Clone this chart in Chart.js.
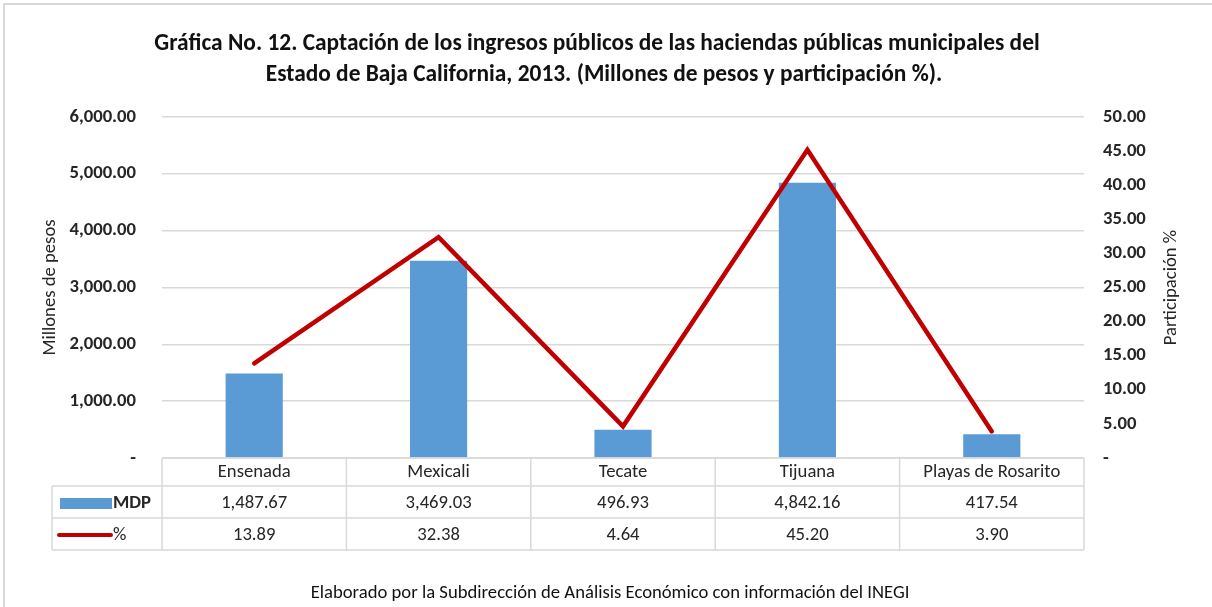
<!DOCTYPE html>
<html><head><meta charset="utf-8">
<script src="https://cdn.jsdelivr.net/npm/chart.js@4.4.1/dist/chart.umd.min.js"></script>
<style>html,body{margin:0;padding:0;background:#fff}#wrap{width:1212px;height:607px;position:relative}</style>
</head><body><div id="wrap"><canvas id="c" width="1212" height="607"></canvas></div>
<script>
// ---- data ----
const titleLines = [
  "Gráfica No. 12. Captación de los ingresos públicos de las haciendas públicas municipales del",
  "Estado de Baja California, 2013. (Millones de pesos y participación %)."
];
const categories = ["Ensenada", "Mexicali", "Tecate", "Tijuana", "Playas de Rosarito"];
const mdpValues = [1487.67, 3469.03, 496.93, 4842.16, 417.54];
const pctValues = [13.89, 32.38, 4.64, 45.20, 3.90];
const mdpLabel = "MDP";
const pctLabel = "%";
const leftAxisTitle = "Millones de pesos";
const rightAxisTitle = "Participación %";
const footerText = "Elaborado por la Subdirección de Análisis Económico con información del INEGI";

// ---- styles ----
const FONT = "Carlito, Lato, sans-serif";
const BAR_COLOR = "#5B9BD5";
const LINE_COLOR = "#C00000";
const GRID_COLOR = "#D9D9D9";
const TEXT_COLOR = "#262626";
const FS = 18.67;

function fmt(v) {
  if (v === 0) return "-";
  return v.toLocaleString("en-US", {minimumFractionDigits: 2, maximumFractionDigits: 2});
}

const decorPlugin = {
  id: "decor",
  afterDraw(chart) {
    const ctx = chart.ctx;
    const area = chart.chartArea;
    const xs = chart.scales.x;
    const n = categories.length;
    const colW = (area.right - area.left) / n;
    ctx.save();
    // outer frame (left & top visible)
    ctx.strokeStyle = "#D9D9D9";
    ctx.lineWidth = 2;
    ctx.strokeRect(4, 4, 1230, 640);

    // title
    ctx.fillStyle = "#111";
    ctx.textAlign = "center";
    ctx.textBaseline = "middle";
    ctx.font = "bold 23.4px " + FONT;
    ctx.fillText(titleLines[0], 597, 44);
    ctx.fillText(titleLines[1], 604, 75);

    // axis titles
    ctx.font = FS + "px " + FONT;
    ctx.fillStyle = TEXT_COLOR;
    ctx.save();
    ctx.translate(50, (area.top + area.bottom) / 2);
    ctx.rotate(-Math.PI / 2);
    ctx.fillText(leftAxisTitle, 0, 0);
    ctx.restore();
    ctx.save();
    ctx.translate(1171, (area.top + area.bottom) / 2);
    ctx.rotate(-Math.PI / 2);
    ctx.fillText(rightAxisTitle, 0, 0);
    ctx.restore();

    // data table
    const y0 = area.bottom, y1 = y0 + 28, y2 = y1 + 32, y3 = y2 + 32;
    const tLeft = 52;
    ctx.strokeStyle = GRID_COLOR;
    ctx.lineWidth = 1.5;
    ctx.beginPath();
    ctx.moveTo(area.left, y0); ctx.lineTo(area.right, y0);
    ctx.moveTo(tLeft, y1); ctx.lineTo(area.right, y1);
    ctx.moveTo(tLeft, y2); ctx.lineTo(area.right, y2);
    ctx.moveTo(tLeft, y3); ctx.lineTo(area.right, y3);
    ctx.moveTo(tLeft, y1); ctx.lineTo(tLeft, y3);
    for (let i = 0; i <= n; i++) {
      const x = area.left + i * colW;
      ctx.moveTo(x, y0); ctx.lineTo(x, y3);
    }
    ctx.stroke();

    ctx.fillStyle = TEXT_COLOR;
    ctx.font = FS + "px " + FONT;
    ctx.textAlign = "center";
    for (let i = 0; i < n; i++) {
      const cx = xs.getPixelForValue(i);
      ctx.fillText(categories[i], cx, (y0 + y1) / 2);
      ctx.fillText(fmt(mdpValues[i]), cx, (y1 + y2) / 2 + 1);
      ctx.fillText(fmt(pctValues[i]), cx, (y2 + y3) / 2 + 1);
    }
    // legend keys
    ctx.fillStyle = BAR_COLOR;
    ctx.fillRect(60, y1 + 12, 52, 11);
    ctx.strokeStyle = LINE_COLOR;
    ctx.lineWidth = 4;
    ctx.lineCap = "round";
    ctx.beginPath();
    ctx.moveTo(59, (y2 + y3) / 2 + 1); ctx.lineTo(111, (y2 + y3) / 2 + 1);
    ctx.stroke();
    ctx.fillStyle = TEXT_COLOR;
    ctx.textAlign = "left";
    ctx.font = "bold " + FS + "px " + FONT;
    ctx.fillText(mdpLabel, 113, (y1 + y2) / 2 + 1);
    ctx.font = FS + "px " + FONT;
    ctx.fillText(pctLabel, 113, (y2 + y3) / 2 + 1);

    // footer
    ctx.textAlign = "center";
    ctx.fillStyle = "#111";
    ctx.font = FS + "px " + FONT;
    ctx.fillText(footerText, 610, 593);
    ctx.restore();
  }
};

new Chart(document.getElementById("c"), {
  data: {
    labels: categories,
    datasets: [
      {
        type: "line", label: pctLabel, data: pctValues, yAxisID: "y1", order: 0,
        borderColor: LINE_COLOR, borderWidth: 4.5, pointRadius: 0, tension: 0,
        borderCapStyle: "round", borderJoinStyle: "miter", fill: false
      },
      {
        type: "bar", label: mdpLabel, data: mdpValues, yAxisID: "y", order: 1,
        backgroundColor: BAR_COLOR, categoryPercentage: 1, barPercentage: 0.31
      }
    ]
  },
  options: {
    responsive: false, animation: false, devicePixelRatio: 1,
    layout: {padding: {top: 117, left: 0, right: 0, bottom: 0}},
    plugins: {legend: {display: false}, tooltip: {enabled: false}, title: {display: false}},
    scales: {
      x: {
        grid: {display: false}, border: {display: false}, ticks: {display: false},
        afterFit(s) { s.height = 149; }
      },
      y: {
        position: "left", min: 0, max: 6000,
        grid: {color: GRID_COLOR, lineWidth: 1.5, drawTicks: false}, border: {display: false},
        ticks: {stepSize: 1000, padding: 26, color: TEXT_COLOR, font: {family: FONT, size: FS, weight: "bold"},
          callback: v => fmt(v)},
        afterFit(s) { s.width = 162; }
      },
      y1: {
        position: "right", min: 0, max: 50,
        grid: {display: false, drawTicks: false}, border: {display: false},
        ticks: {stepSize: 5, padding: 19, color: TEXT_COLOR, font: {family: FONT, size: FS, weight: "bold"},
          callback: v => fmt(v)},
        afterFit(s) { s.width = 128; }
      }
    }
  },
  plugins: [decorPlugin]
});
</script>
</body></html>
